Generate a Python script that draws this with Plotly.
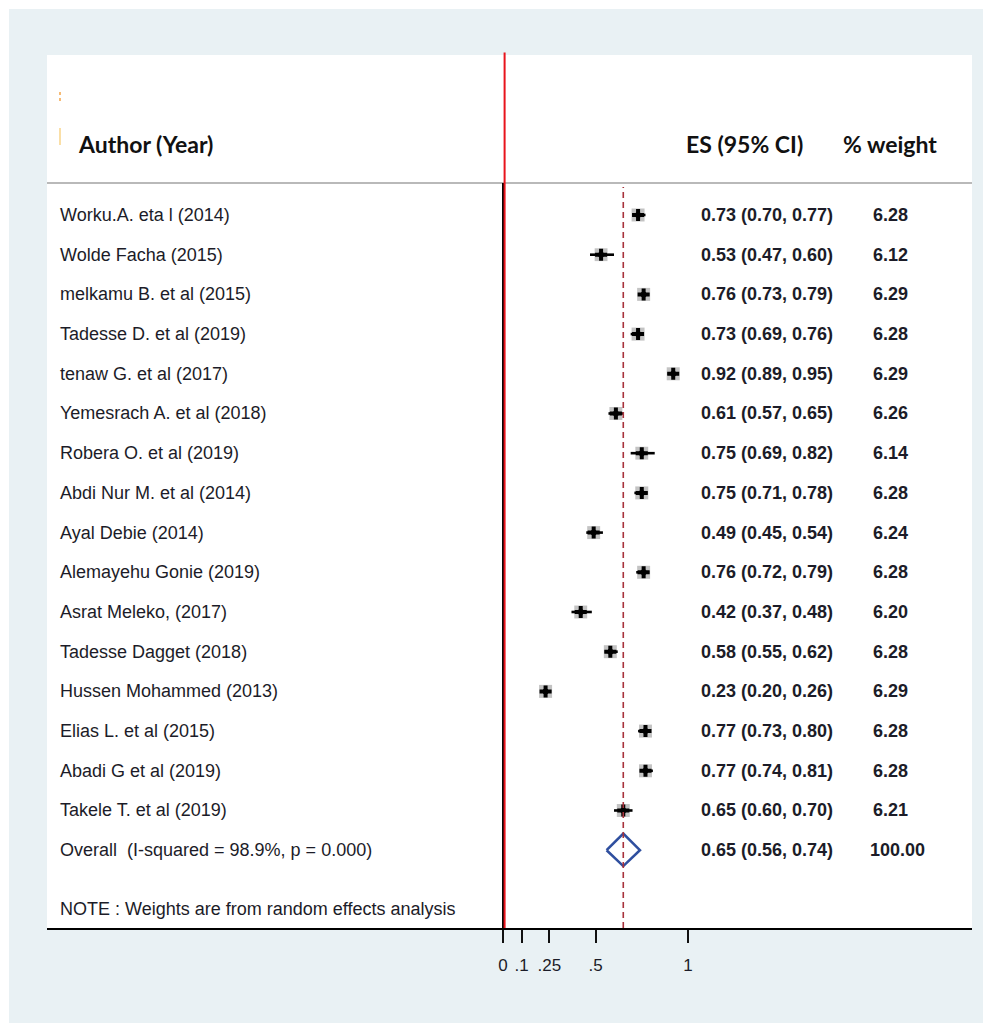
import plotly.graph_objects as go

# Study-level estimates (proportion, 95% CI) and random-effects weights
authors = [
    "Worku.A. eta l (2014)", "Wolde Facha (2015)", "melkamu B. et al (2015)",
    "Tadesse D. et al (2019)", "tenaw G. et al (2017)", "Yemesrach A. et al (2018)",
    "Robera O. et al (2019)", "Abdi Nur M. et al (2014)", "Ayal Debie (2014)",
    "Alemayehu Gonie (2019)", "Asrat Meleko, (2017)", "Tadesse Dagget (2018)",
    "Hussen Mohammed (2013)", "Elias L. et al (2015)", "Abadi G et al (2019)",
    "Takele T. et al (2019)",
]
es = [0.73, 0.53, 0.76, 0.73, 0.92, 0.61, 0.75, 0.75, 0.49, 0.76, 0.42, 0.58, 0.23, 0.77, 0.77, 0.65]
lo = [0.70, 0.47, 0.73, 0.69, 0.89, 0.57, 0.69, 0.71, 0.45, 0.72, 0.37, 0.55, 0.20, 0.73, 0.74, 0.60]
hi = [0.77, 0.60, 0.79, 0.76, 0.95, 0.65, 0.82, 0.78, 0.54, 0.79, 0.48, 0.62, 0.26, 0.80, 0.81, 0.70]
weights = [6.28, 6.12, 6.29, 6.28, 6.29, 6.26, 6.14, 6.28, 6.24, 6.28, 6.20, 6.28, 6.29, 6.28, 6.28, 6.21]

overall_label = "Overall  (I-squared = 98.9%, p = 0.000)"
overall_es, overall_lo, overall_hi, overall_w = 0.65, 0.56, 0.74, 100.00

tick_vals = [0, 0.1, 0.25, 0.5, 1]
tick_text = ["0", ".1", ".25", ".5", "1"]

BG = "#e9f1f4"
TXT = "#1c1c28"
n = len(authors)
rows = list(range(n))
overall_row = n
note_row = n + 1.48
header_row = -1.80
rule_row = -0.805

X_RANGE = [-2.465, 2.535]
Y_RANGE = [17.96, -4.03]
PLOT_L, PLOT_W = 47, 925


def px(xpix):
    """Horizontal pixel position -> paper coordinate."""
    return (xpix - PLOT_L) / PLOT_W


fig = go.Figure()

# weight boxes
fig.add_trace(go.Scatter(
    x=es, y=rows, mode="markers",
    marker=dict(symbol="square", size=[13 * (w / 6.29) ** 0.5 for w in weights],
                color="#a9a9a9", line=dict(width=0)),
    hoverinfo="skip", showlegend=False))

# confidence intervals
ci_x, ci_y = [], []
for r, a, b in zip(rows, lo, hi):
    ci_x += [a, b, None]
    ci_y += [r, r, None]
fig.add_trace(go.Scatter(x=ci_x, y=ci_y, mode="lines",
                         line=dict(color="black", width=2.6),
                         hoverinfo="skip", showlegend=False))

# point estimates
fig.add_trace(go.Scatter(
    x=es, y=rows, mode="markers",
    marker=dict(symbol="cross", size=10, color="black", line=dict(width=0)),
    hoverinfo="skip", showlegend=False))
fig.add_trace(go.Scatter(
    x=es, y=rows, mode="markers",
    marker=dict(symbol="circle", size=6, color="black", line=dict(width=0)),
    hoverinfo="skip", showlegend=False))

# pooled estimate diamond
fig.add_trace(go.Scatter(
    x=[overall_lo, overall_es, overall_hi, overall_es, overall_lo],
    y=[overall_row, overall_row - 0.42, overall_row, overall_row + 0.40, overall_row],
    mode="lines", line=dict(color="#2f4f9f", width=2.6),
    hoverinfo="skip", showlegend=False))

shapes = [
    # outer white border strips
    dict(type="rect", xref="paper", yref="paper",
         x0=px(0), x1=px(983), y0=1 + (55 - 9) / 873, y1=1 + 55 / 873,
         fillcolor="white", line=dict(width=0), layer="below"),
    dict(type="rect", xref="paper", yref="paper",
         x0=px(0), x1=px(9), y0=-95 / 873, y1=1 + 55 / 873,
         fillcolor="white", line=dict(width=0), layer="below"),
    # header rule
    dict(type="line", xref="paper", yref="y", x0=0, x1=1, y0=rule_row, y1=rule_row,
         line=dict(color="#b9b9b9", width=2)),
    # pooled-estimate reference line
    dict(type="line", xref="x", yref="paper", x0=overall_es, x1=overall_es,
         y0=0, y1=(928 - 187) / 873,
         line=dict(color="#a8323c", width=1.6, dash="6px,4px")),
    # null line
    dict(type="line", xref="x", yref="paper", x0=0, x1=0,
         y0=0, y1=(928 - 183) / 873, line=dict(color="black", width=2)),
    dict(type="line", xref="x", yref="paper", x0=0.0085, x1=0.0085,
         y0=0, y1=1.003, line=dict(color="#e8141c", width=2)),
    # small marks near the header
    dict(type="line", xref="paper", yref="paper", x0=px(60), x1=px(60),
         y0=1 - (92 - 55) / 873, y1=1 - (104 - 55) / 873,
         line=dict(color="#f4a54a", width=1.5, dash="dot")),
    dict(type="line", xref="paper", yref="paper", x0=px(60), x1=px(60),
         y0=1 - (128 - 55) / 873, y1=1 - (145 - 55) / 873,
         line=dict(color="#f8d48a", width=1.5)),
]

ann = []
row_font = dict(family="Liberation Sans, Arial", size=18, color=TXT)
num_font = dict(family="Liberation Sans, Arial", size=18, color=TXT, weight="bold")
head_font = dict(family="Lato, Open Sans", size=23, color="#111111", weight="bold")

for r, name, e, a, b, w in zip(rows, authors, es, lo, hi, weights):
    ann.append(dict(x=px(58), y=r, xref="paper", yref="y", text=name,
                    xanchor="left", yanchor="middle", showarrow=False, font=row_font))
    ann.append(dict(x=px(699), y=r, xref="paper", yref="y",
                    text=f"{e:.2f} ({a:.2f}, {b:.2f})",
                    xanchor="left", yanchor="middle", showarrow=False, font=num_font))
    ann.append(dict(x=px(871), y=r, xref="paper", yref="y", text=f"{w:.2f}",
                    xanchor="left", yanchor="middle", showarrow=False, font=num_font))

ann.append(dict(x=px(58), y=overall_row, xref="paper", yref="y", text=overall_label,
                xanchor="left", yanchor="middle", showarrow=False, font=row_font))
ann.append(dict(x=px(699), y=overall_row, xref="paper", yref="y",
                text=f"{overall_es:.2f} ({overall_lo:.2f}, {overall_hi:.2f})",
                xanchor="left", yanchor="middle", showarrow=False, font=num_font))
ann.append(dict(x=px(868), y=overall_row, xref="paper", yref="y", text=f"{overall_w:.2f}",
                xanchor="left", yanchor="middle", showarrow=False, font=num_font))
ann.append(dict(x=px(58), y=note_row, xref="paper", yref="y",
                text="NOTE : Weights are from random effects analysis",
                xanchor="left", yanchor="middle", showarrow=False, font=row_font))

ann.append(dict(x=px(76), y=header_row, xref="paper", yref="y", text="Author (Year)",
                xanchor="left", yanchor="middle", showarrow=False, font=head_font))
ann.append(dict(x=px(684), y=header_row, xref="paper", yref="y", text="ES (95% CI)",
                xanchor="left", yanchor="middle", showarrow=False, font=head_font))
ann.append(dict(x=px(841), y=header_row, xref="paper", yref="y", text="% weight",
                xanchor="left", yanchor="middle", showarrow=False, font=head_font))

fig.update_layout(
    width=983, height=1023,
    margin=dict(l=47, r=11, t=55, b=95, pad=0),
    paper_bgcolor=BG, plot_bgcolor="white",
    shapes=shapes, annotations=ann,
    xaxis=dict(range=X_RANGE, showgrid=False, zeroline=False,
               showline=True, linecolor="black", linewidth=2,
               tickmode="array", tickvals=tick_vals, ticktext=tick_text,
               ticks="outside", ticklen=13, tickwidth=2, tickcolor="#111111",
               ticklabelstandoff=8,
               tickfont=dict(family="Liberation Sans, Arial", size=17, color=TXT),
               fixedrange=True),
    yaxis=dict(range=Y_RANGE, visible=False, showgrid=False, zeroline=False,
               fixedrange=True),
)

fig.write_html("out.html")
